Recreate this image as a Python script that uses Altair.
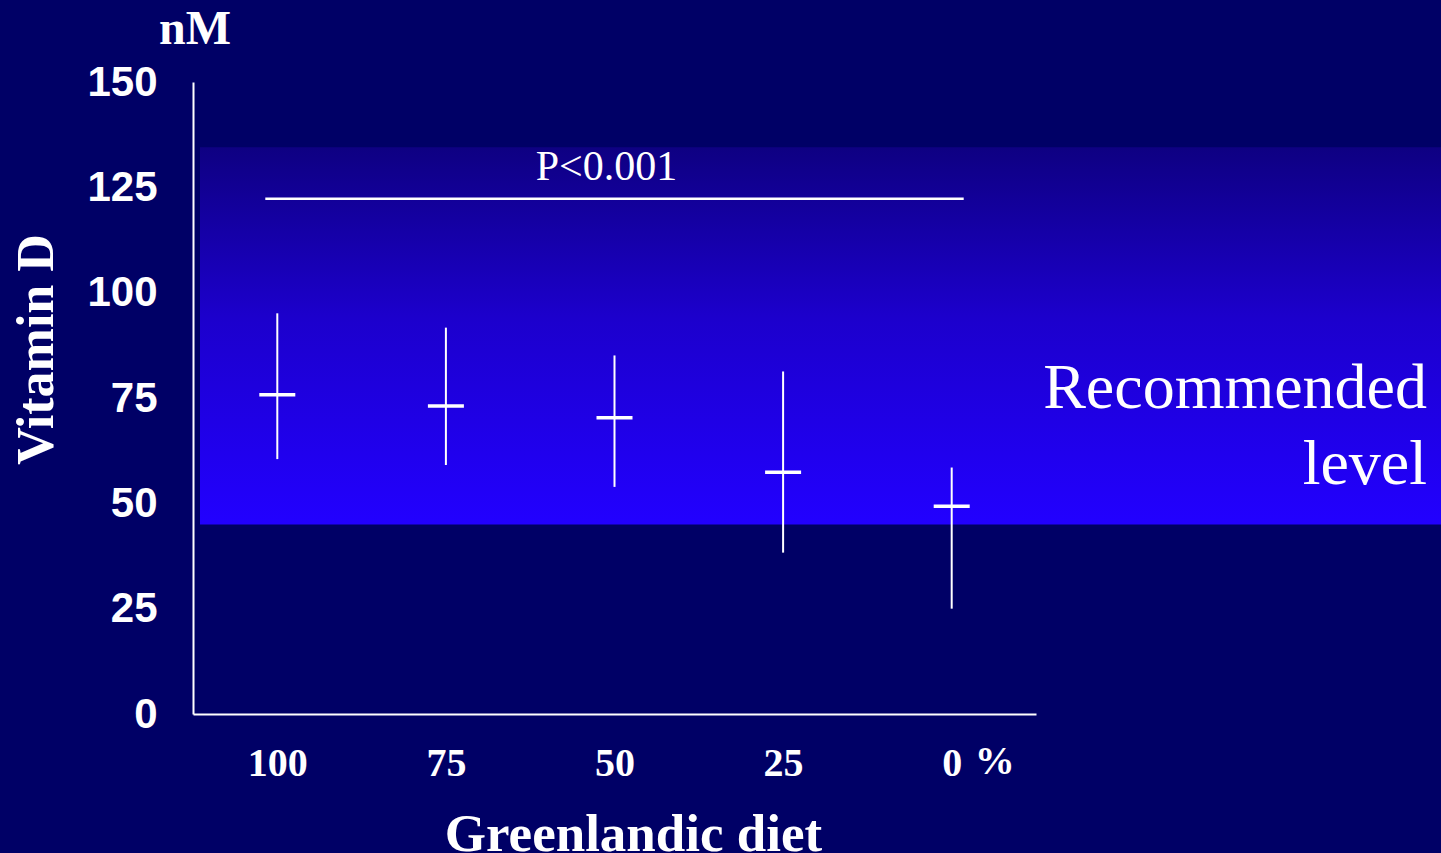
import altair as alt
import pandas as pd

# Share of Greenlandic diet (%) and serum vitamin D (nM): mean with range
diet_share = ["100", "75", "50", "25", "0"]
vit_d_mean = [75.8, 73.1, 70.3, 57.4, 49.3]
vit_d_low = [60.5, 59.1, 53.9, 38.3, 25.0]
vit_d_high = [95.1, 91.7, 85.1, 81.3, 58.5]

# Recommended vitamin D band
recommended_low = [45.0]
recommended_high = [134.5]
recommended_label = ["Recommended\nlevel"]
recommended_label_y = [72.6]

# Trend test annotation
p_label = ["P<0.001"]
p_line_value = [122.3]
p_line_from = ["100"]
p_line_to = ["0"]
p_label_at = ["50"]

y_ticks = [0, 25, 50, 75, 100, 125, 150]
unit_label = ["nM"]
percent_label = ["%"]

BG = "#000066"
WHITE = "#ffffff"
SERIF = "Liberation Serif"
SANS = "Liberation Sans"

data = pd.DataFrame({"diet": diet_share, "mean": vit_d_mean,
                     "low": vit_d_low, "high": vit_d_high})
band = pd.DataFrame({"lo": recommended_low, "hi": recommended_high})
band_note = pd.DataFrame({"label": recommended_label, "y": recommended_label_y})
p_line = pd.DataFrame({"start": p_line_from, "end": p_line_to, "y": p_line_value})
p_text = pd.DataFrame({"diet": p_label_at, "y": p_line_value, "label": p_label})
unit_df = pd.DataFrame({"label": unit_label, "y": [y_ticks[-1]]})
pct_df = pd.DataFrame({"diet": [diet_share[-1]], "y": [y_ticks[0]], "label": percent_label})

x_scale = alt.Scale(type="point", domain=diet_share, padding=0.5)
y_scale = alt.Scale(domain=[0, 150], nice=False, zero=True)

x_axis = alt.Axis(
    title="Greenlandic diet", titleFont=SERIF, titleFontWeight="bold",
    titleFontSize=53, titleColor=WHITE, titleX=440, titleY=136,
    titleAlign="center", titleBaseline="alphabetic",
    labelFont=SERIF, labelFontWeight="bold", labelFontSize=40,
    labelColor=WHITE, labelAngle=0, labelBaseline="alphabetic",
    labelPadding=61, ticks=False, tickSize=0, grid=False,
    domainColor=WHITE, domainWidth=2,
)
y_axis = alt.Axis(
    values=y_ticks, title="Vitamin D", titleFont=SERIF, titleFontWeight="bold",
    titleFontSize=52, titleColor=WHITE, titleAngle=270, titleX=-157, titleY=267,
    titleAlign="center", titleBaseline="middle",
    labelFont=SANS, labelFontWeight="bold", labelFontSize=42, labelColor=WHITE,
    labelPadding=36, ticks=False, tickSize=0, grid=False,
    domainColor=WHITE, domainWidth=2,
)

gradient = alt.Gradient(
    gradient="linear",
    stops=[alt.GradientStop(color="#0e0082", offset=0),
           alt.GradientStop(color="#1c00cc", offset=0.45),
           alt.GradientStop(color="#2200ff", offset=1)],
    x1=0, x2=0, y1=0, y2=1,
)

band_layer = alt.Chart(band).mark_rect(fill=gradient).encode(
    x=alt.value(7), x2=alt.value(1248),
    y=alt.Y("lo:Q", scale=y_scale, axis=y_axis), y2="hi:Q",
)

ranges = alt.Chart(data).mark_rule(color=WHITE, strokeWidth=2).encode(
    x=alt.X("diet:N", scale=x_scale, sort=diet_share, axis=x_axis),
    y=alt.Y("low:Q", scale=y_scale, axis=y_axis), y2="high:Q",
)

means = alt.Chart(data).mark_tick(color=WHITE, thickness=3.5, size=36,
                                  orient="horizontal", opacity=1).encode(
    x=alt.X("diet:N", scale=x_scale, sort=diet_share, axis=x_axis),
    y=alt.Y("mean:Q", scale=y_scale, axis=y_axis),
)

p_rule = alt.Chart(p_line).mark_rule(color=WHITE, strokeWidth=2.5,
                                     xOffset=-12, x2Offset=12).encode(
    x=alt.X("start:N", scale=x_scale, axis=x_axis), x2="end:N",
    y=alt.Y("y:Q", scale=y_scale, axis=y_axis),
)

p_note = alt.Chart(p_text).mark_text(color=WHITE, font=SERIF, fontSize=42,
                                     align="center", baseline="alphabetic",
                                     dx=-8, dy=-19).encode(
    x=alt.X("diet:N", scale=x_scale, axis=x_axis),
    y=alt.Y("y:Q", scale=y_scale, axis=y_axis),
    text="label:N",
)

rec_note = alt.Chart(band_note).mark_text(color=WHITE, font=SERIF, fontSize=64,
                                          align="right", baseline="alphabetic",
                                          lineBreak="\n", lineHeight=76).encode(
    x=alt.value(1234),
    y=alt.Y("y:Q", scale=y_scale, axis=y_axis),
    text="label:N",
)

unit_note = alt.Chart(unit_df).mark_text(color=WHITE, font=SERIF, fontSize=48,
                                         fontWeight="bold", align="center",
                                         baseline="alphabetic", dy=-38).encode(
    x=alt.value(2),
    y=alt.Y("y:Q", scale=y_scale, axis=y_axis),
    text="label:N",
)

pct_note = alt.Chart(pct_df).mark_text(color=WHITE, font=SERIF, fontSize=40,
                                       fontWeight="bold", align="center",
                                       baseline="alphabetic", dx=43, dy=60).encode(
    x=alt.X("diet:N", scale=x_scale, axis=x_axis),
    y=alt.Y("y:Q", scale=y_scale, axis=y_axis),
    text="label:N",
)

chart = alt.layer(
    band_layer, ranges, means, p_rule, p_note, rec_note, unit_note, pct_note
).properties(
    width=843, height=632,
    padding={"left": 193, "top": 82, "right": 405, "bottom": 139},
    autosize=alt.AutoSizeParams(type="none"),
    background=BG,
).configure_view(stroke=None)

chart.save("out.html", embed_options={"renderer": "svg", "actions": False})
